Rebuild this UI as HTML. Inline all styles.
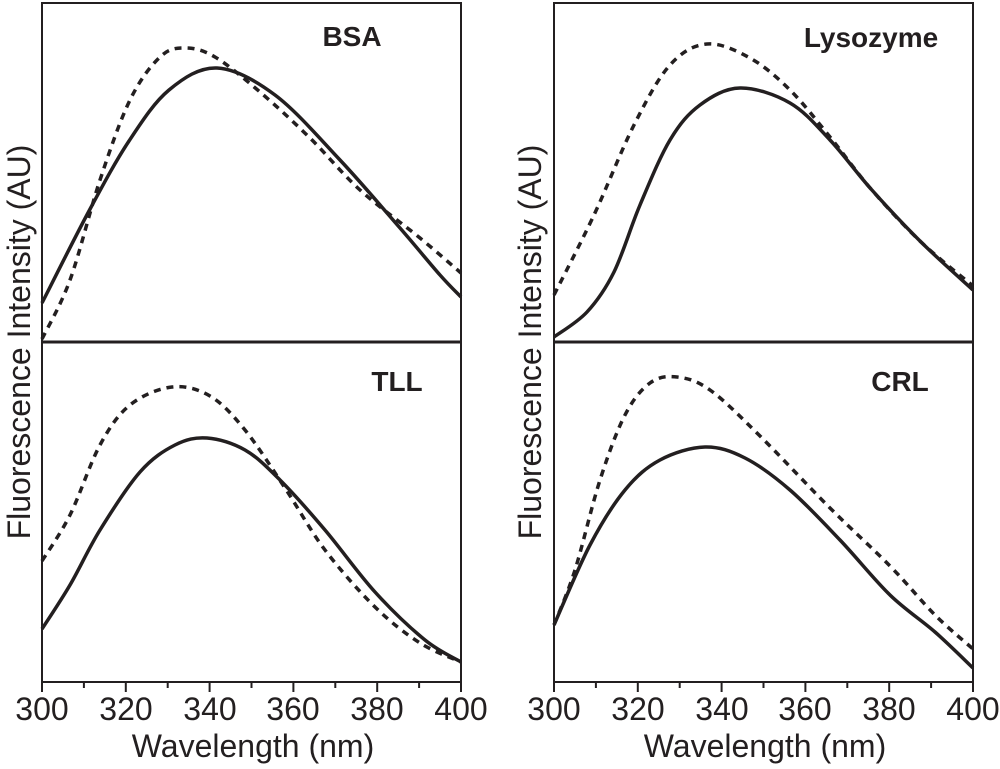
<!DOCTYPE html>
<html><head><meta charset="utf-8"><style>
html,body{margin:0;padding:0;background:#fff;width:1000px;height:769px;overflow:hidden}
svg text{font-family:"Liberation Sans",Arial,sans-serif;fill:#231f20}
</style></head><body>
<svg id="s" width="1000" height="769" viewBox="0 0 1000 769" xmlns="http://www.w3.org/2000/svg">
<g fill="none" stroke="#231f20" stroke-width="2">
<rect x="42" y="3" width="419" height="679"/>
<rect x="554" y="3" width="419" height="679"/>
</g>
<line x1="42" y1="342" x2="461" y2="342" stroke="#231f20" stroke-width="3"/>
<line x1="554" y1="342" x2="973" y2="342" stroke="#231f20" stroke-width="3"/>
<g id="ticks" stroke="#231f20" stroke-width="2"></g>
<g id="curves" fill="none" stroke="#231f20" stroke-width="3.5"></g>
<g font-size="32" text-anchor="middle">
<text x="42" y="720">300</text><text x="126" y="720">320</text><text x="210" y="720">340</text><text x="293" y="720">360</text><text x="377" y="720">380</text><text x="461" y="720">400</text>
<text x="554" y="720">300</text><text x="638" y="720">320</text><text x="722" y="720">340</text><text x="805" y="720">360</text><text x="889" y="720">380</text><text x="973" y="720">400</text>
<text x="253" y="757">Wavelength (nm)</text>
<text x="765" y="757">Wavelength (nm)</text>
<text transform="translate(30,342) rotate(-90)">Fluorescence Intensity (AU)</text>
<text transform="translate(541,342) rotate(-90)">Fluorescence Intensity (AU)</text>
</g>
<g font-size="28" font-weight="bold" text-anchor="middle">
<text x="352" y="46">BSA</text>
<text x="871" y="47">Lysozyme</text>
<text x="397" y="391">TLL</text>
<text x="900" y="391">CRL</text>
</g>
</svg>
<script>
var NS="http://www.w3.org/2000/svg";
var t=document.getElementById('ticks');
[42,554].forEach(function(x0){for(var i=0;i<=10;i++){var x=x0+i*41.9;var l=document.createElementNS(NS,'line');l.setAttribute('x1',x);l.setAttribute('x2',x);l.setAttribute('y1',682);l.setAttribute('y2',i%2?688:692);t.appendChild(l);}});
function path(p){var d='M'+p[0][0]+','+p[0][1];for(var i=0;i<p.length-1;i++){var a=p[i-1]||p[i],b=p[i],c=p[i+1],e=p[i+2]||c;
d+=' C'+(b[0]+(c[0]-a[0])/6)+','+(b[1]+(c[1]-a[1])/6)+' '+(c[0]-(e[0]-b[0])/6)+','+(c[1]-(e[1]-b[1])/6)+' '+c[0]+','+c[1];}return d;}
var C=document.getElementById('curves');
function add(p,dash){var e=document.createElementNS(NS,'path');e.setAttribute('d',path(p));if(dash)e.setAttribute('stroke-dasharray','7,6');C.appendChild(e);}
add([[42,303],[89,211],[129,141],[169,90],[217,68],[275,95],[340,160],[400,228],[440,275],[461,297]]);
add([[42,339],[70,280],[100,180],[130,100],[160,57],[185,48],[215,57],[260,92],[310,138],[360,190],[420,238],[461,273]],1);
add([[42,629],[70,585],[100,530],[140,472],[175,445],[207,438],[245,450],[280,480],[325,530],[375,592],[425,640],[461,662]]);
add([[42,561],[70,515],[100,445],[130,405],[172,387],[210,396],[245,430],[285,488],[325,550],[375,607],[420,643],[461,662]],1);
add([[554,337],[587,312],[614,272],[640,205],[670,140],[700,105],[740,88],[790,103],[830,140],[871,189],[921,242],[973,290]]);
add([[554,295],[594,215],[634,125],[670,65],[707,44],[750,58],[790,90],[830,137],[871,189],[921,242],[973,286]],1);
add([[554,625],[590,545],[625,490],[660,460],[705,447],[745,458],[790,490],[840,540],[890,595],[935,632],[973,668]]);
add([[554,625],[575,570],[600,480],[625,415],[650,383],[677,377],[710,390],[760,436],[830,508],[890,566],[935,615],[973,649]],1);
</script>
</body></html>
